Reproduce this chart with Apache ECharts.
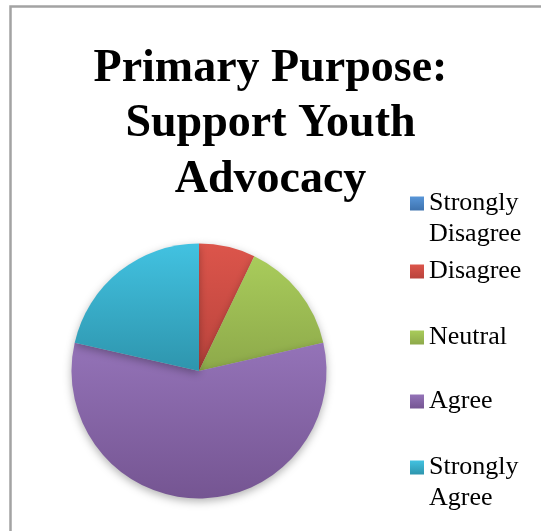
<!DOCTYPE html>
<html>
<head>
<meta charset="utf-8">
<script src="https://cdn.jsdelivr.net/npm/echarts@6/dist/echarts.min.js"></script>
<style>
  html, body { margin: 0; padding: 0; background: #fff; }
  #chart { width: 541px; height: 531px; }
</style>
</head>
<body>
<div id="chart"></div>
<script>
// Survey responses for "Support Youth Advocacy"
const categories = ['Strongly Disagree', 'Disagree', 'Neutral', 'Agree', 'Strongly Agree'];
// Two-line labels carry a leading blank line so their first line sits beside the swatch
const legendLabels = ['\nStrongly\nDisagree', 'Disagree', 'Neutral', 'Agree', '\nStrongly\nAgree'];
const responses = [0, 1, 2, 8, 3];
const titleText = 'Primary Purpose:\nSupport Youth\nAdvocacy';

// Light-to-dark vertical shading per slice
const palette = [
  ['#5896d8', '#3e72ae'],
  ['#dc554b', '#b9433c'],
  ['#a9cc5b', '#8da94a'],
  ['#9473b8', '#755592'],
  ['#42c2e1', '#2e95ad']
];

// Vertical padding around each legend label, giving every entry the same height
const legendPadding = [0, [31, 0, 35, 0], [27, 0, 31, 0], [31, 0, 31, 0], 0];

function shade(pair) {
  return new echarts.graphic.LinearGradient(0, 0, 0, 1, [
    { offset: 0, color: pair[0] },
    { offset: 1, color: pair[1] }
  ]);
}

const chart = echarts.init(document.getElementById('chart'), null, { renderer: 'canvas' });

const legendData = categories.map((name, i) => ({
  name: name,
  itemStyle: { color: shade(palette[i]) },
  textStyle: { padding: legendPadding[i] }
}));

chart.setOption({
  animation: false,
  backgroundColor: '#ffffff',
  title: {
    text: titleText,
    left: 'center',
    top: 36,
    textStyle: {
      fontFamily: 'Liberation Serif',
      fontWeight: 'bold',
      fontSize: 46,
      lineHeight: 55.5,
      color: '#000000'
    }
  },
  legend: {
    orient: 'vertical',
    left: 410,
    top: 157,
    padding: 0,
    itemWidth: 14,
    itemHeight: 14,
    itemGap: -27,
    selectedMode: false,
    icon: 'rect',
    itemStyle: { borderWidth: 0 },
    formatter: function (name) {
      return legendLabels[categories.indexOf(name)];
    },
    textStyle: {
      fontFamily: 'Liberation Serif',
      fontSize: 26,
      lineHeight: 31,
      color: '#000000'
    },
    data: legendData
  },
  graphic: [{
    type: 'rect',
    shape: { x: 10.5, y: 6.5, width: 700, height: 700 },
    style: { fill: 'none', stroke: '#a3a3a3', lineWidth: 2.5 },
    silent: true,
    z: -1
  }],
  series: [{
    type: 'pie',
    center: [199, 371],
    radius: 127.5,
    startAngle: 90,
    clockwise: true,
    label: { show: false },
    labelLine: { show: false },
    emphasis: { disabled: true },
    itemStyle: {
      borderWidth: 0,
      shadowBlur: 8,
      shadowOffsetY: 3,
      shadowColor: 'rgba(0,0,0,0.3)'
    },
    data: categories.map((name, i) => ({
      name: name,
      value: responses[i],
      itemStyle: { color: shade(palette[i]) }
    }))
  }]
});
</script>
</body>
</html>
